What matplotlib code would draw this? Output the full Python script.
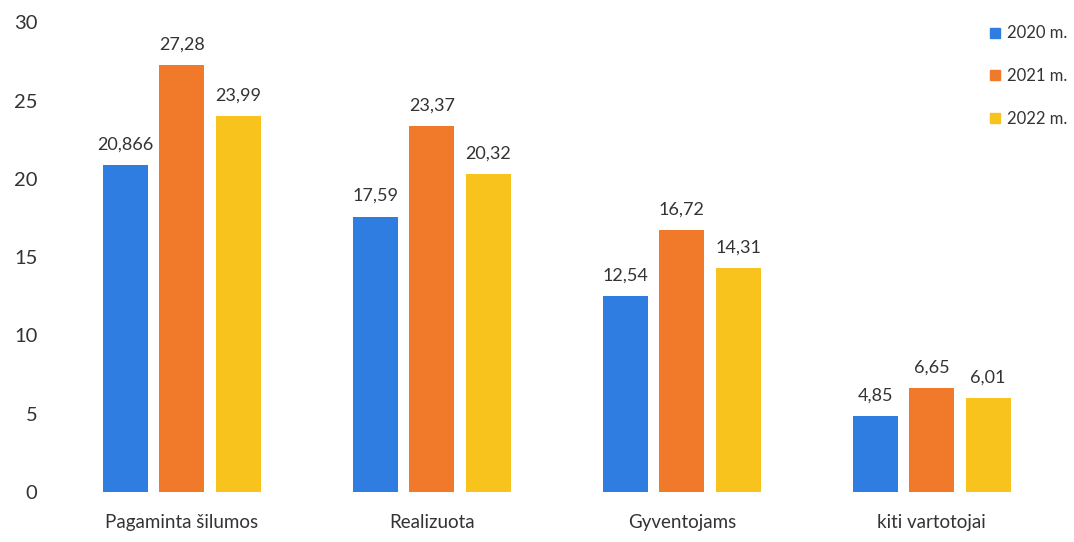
import matplotlib.pyplot as plt
import numpy as np

# data
categories = ['Pagaminta šilumos', 'Realizuota', 'Gyventojams', 'kiti vartotojai']
years = ['2020 m.', '2021 m.', '2022 m.']
v2020 = [20.866, 17.59, 12.54, 4.85]
v2021 = [27.28, 23.37, 16.72, 6.65]
v2022 = [23.99, 20.32, 14.31, 6.01]
lbl2020 = ['20,866', '17,59', '12,54', '4,85']
lbl2021 = ['27,28', '23,37', '16,72', '6,65']
lbl2022 = ['23,99', '20,32', '14,31', '6,01']

colors = ['#2f7de1', '#f07a2a', '#f7c31c']

plt.rcParams['font.family'] = ['Lato', 'DejaVu Sans']

fig = plt.figure(figsize=(10.74, 5.42), dpi=100)
ax = fig.add_axes([0.053, 0.092, 0.931, 0.867])

x = np.arange(len(categories))
w = 0.18
step = 0.225
series = [v2020, v2021, v2022]
labels = [lbl2020, lbl2021, lbl2022]
for i in range(3):
    bars = ax.bar(x + (i - 1) * step, series[i], w, color=colors[i], label=years[i])
    ax.bar_label(bars, labels=labels[i], padding=9, fontsize=13, color='#333333')

ax.set_xlim(-0.5, 3.5)
ax.set_ylim(0, 30)
ax.set_yticks([0, 5, 10, 15, 20, 25, 30])
ax.set_xticks(x)
ax.set_xticklabels(categories, fontsize=13.5, color='#333333')
ax.tick_params(axis='y', labelsize=14.5, colors='#333333', length=0, pad=14)
ax.tick_params(axis='x', length=0, pad=16)
for s in ax.spines.values():
    s.set_visible(False)

handles = [plt.Line2D([], [], marker='s', linestyle='', color=c, markersize=7) for c in colors]
ax.legend(handles, years, loc='upper right', bbox_to_anchor=(1.025, 1.025), frameon=False,
          fontsize=12, labelspacing=1.6, handletextpad=0.2, handlelength=1.0,
          labelcolor='#333333')

fig.savefig('out.png', dpi=100)
